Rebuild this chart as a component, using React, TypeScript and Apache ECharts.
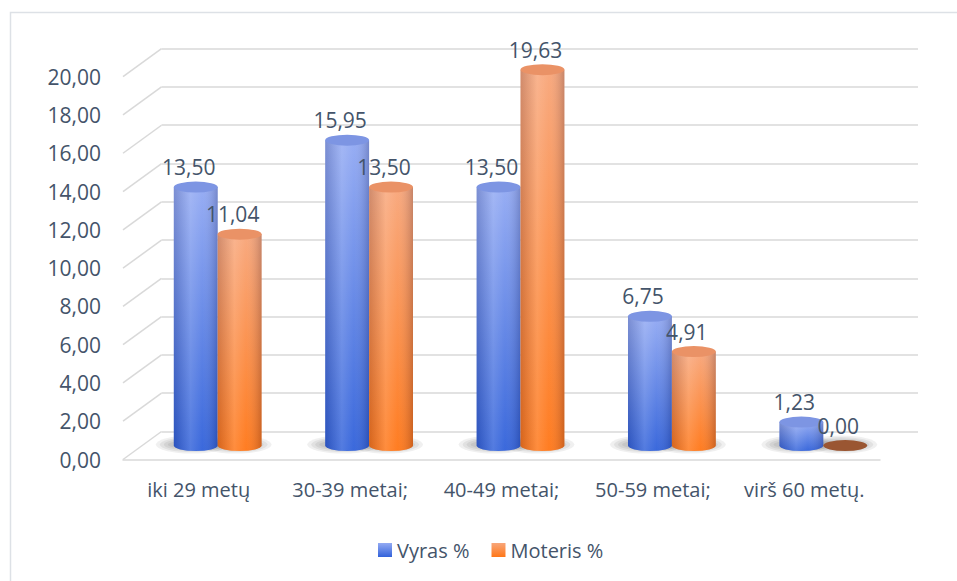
import React, { useEffect, useRef } from "react";
import * as echarts from "echarts";

const categories = ["iki 29 metų", "30-39 metai;", "40-49 metai;", "50-59 metai;", "virš 60 metų."];
const vyras = [13.5, 15.95, 13.5, 6.75, 1.23];
const moteris = [11.04, 13.5, 19.63, 4.91, 0.0];
const yTicks = [0, 2, 4, 6, 8, 10, 12, 14, 16, 18, 20];
const seriesNames = ["Vyras %", "Moteris %"];

const TEXT = "#44546a";
const GRID = "#d9d9d9";
const FONT = "Open Sans";

const palettes = [
  { top: "#93aaf3", bottom: "#3262da", cap: "#7d95e3", zero: "#3c5fb8" },
  { top: "#f8a67a", bottom: "#ff7718", cap: "#ea9266", zero: "#9a5632" },
];

const fmt = (v: number) => v.toFixed(2).replace(".", ",");

const ellipsePath = (cx: number, cy: number, rx: number, ry: number) =>
  `M${cx - rx} ${cy} A${rx} ${ry} 0 1 0 ${cx + rx} ${cy} A${rx} ${ry} 0 1 0 ${cx - rx} ${cy} Z`;

function barGeom(api: any, side: number) {
  const i = api.value(0);
  const v = api.value(1);
  const base = api.coord([i, 0]);
  const top = api.coord([i, v]);
  const band = api.size([1, 0])[0];
  const w = band * 0.29;
  const cx = base[0] + side * band * 0.145;
  return { v, cx, rx: w / 2, ry: 5.5, yb: base[1], yt: top[1] };
}

function cylinder(seriesIdx: number) {
  const side = seriesIdx === 0 ? -1 : 1;
  const pal = palettes[seriesIdx];
  return (params: any, api: any) => {
    const { v, cx, rx, ry, yb, yt } = barGeom(api, side);
    if (v <= 0) {
      return {
        type: "path",
        shape: { pathData: ellipsePath(cx, yb, rx, ry) },
        style: { fill: pal.zero },
      };
    }
    const body = `M${cx - rx} ${yt} L${cx - rx} ${yb} A${rx} ${ry} 0 0 0 ${cx + rx} ${yb} L${cx + rx} ${yt} Z`;
    return {
      type: "group",
      children: [
        {
          type: "path",
          shape: { pathData: body },
          style: {
            fill: new echarts.graphic.LinearGradient(0, 0, 0, 1, [
              { offset: 0, color: pal.top },
              { offset: 1, color: pal.bottom },
            ]),
          },
        },
        {
          type: "path",
          shape: { pathData: body },
          style: {
            fill: new echarts.graphic.LinearGradient(0, 0, 1, 0, [
              { offset: 0, color: "rgba(0,0,40,0.16)" },
              { offset: 0.38, color: "rgba(255,255,255,0.16)" },
              { offset: 0.65, color: "rgba(255,255,255,0.04)" },
              { offset: 1, color: "rgba(0,0,40,0.2)" },
            ]),
          },
        },
        {
          type: "path",
          shape: { pathData: ellipsePath(cx, yt, rx, ry) },
          style: { fill: pal.cap },
        },
      ],
    };
  };
}

function shadow(seriesIdx: number) {
  const side = seriesIdx === 0 ? -1 : 1;
  return (params: any, api: any) => {
    const { cx, rx, yb } = barGeom(api, side);
    const children: any[] = [];
    for (let k = 0; k < 4; k++) {
      children.push({
        type: "path",
        shape: { pathData: ellipsePath(cx - 4, yb - 1, rx + 14 - k * 4, 9 - k * 1.5) },
        style: { fill: "rgba(0,0,0,0.06)" },
      });
    }
    return { type: "group", children };
  };
}

function labelItem(params: any, api: any) {
  const side = api.value(2);
  const { v, cx, yt } = barGeom(api, side);
  return {
    type: "text",
    x: cx - 7,
    y: yt - 20,
    style: {
      text: fmt(v),
      fill: TEXT,
      fontSize: 21,
      fontFamily: FONT,
      align: "center",
      verticalAlign: "middle",
    },
  };
}

export default function App() {
  const ref = useRef<HTMLDivElement>(null);
  useEffect(() => {
    if (!ref.current) return;
    const chart = echarts.init(ref.current, null, { renderer: "svg" });
    const vData = vyras.map((v, i) => [i, v]);
    const mData = moteris.map((v, i) => [i, v]);
    const labelData = [
      ...vyras.map((v, i) => [i, v, -1]),
      ...moteris.map((v, i) => [i, v, 1]),
    ];
    const option: any = {
      animation: false,
      backgroundColor: "#ffffff",
      graphic: [
        {
          type: "rect",
          shape: { x: 10.5, y: 12.5, width: 980, height: 620 },
          style: { fill: "none", stroke: "#dde1e6", lineWidth: 1.5 },
          silent: true,
        },
      ],
      legend: {
        data: seriesNames,
        left: 373,
        top: 535,
        icon: "rect",
        itemWidth: 14,
        itemHeight: 14,
        itemGap: 22,
        textStyle: { fontSize: 20, color: TEXT, fontFamily: FONT },
      },
      grid: [
        { left: 161.5, top: 48.5, width: 756.5, height: 383 },
        { left: 123, top: 76.7, width: 757, height: 382.8 },
        { left: 142, top: 62.6, width: 757, height: 383 },
      ],
      xAxis: [
        { gridIndex: 0, type: "category", data: categories, show: false },
        {
          gridIndex: 1,
          type: "category",
          data: categories,
          axisLine: { lineStyle: { color: GRID, width: 1.5 } },
          axisTick: { show: false },
          axisLabel: { interval: 0, fontSize: 20, color: TEXT, fontFamily: FONT, margin: 20 },
        },
        { gridIndex: 2, type: "category", data: categories, show: false },
      ],
      yAxis: [
        {
          gridIndex: 0,
          type: "value",
          min: 0,
          max: 20,
          interval: 2,
          axisLabel: { show: false },
          axisLine: { show: false },
          axisTick: { show: false },
          splitLine: { lineStyle: { color: GRID, width: 1.5 } },
        },
        {
          gridIndex: 1,
          type: "value",
          min: 0,
          max: 20,
          interval: 2,
          axisLine: { show: false },
          axisTick: { show: false },
          splitLine: { show: false },
          axisLabel: {
            formatter: (v: number) => fmt(v),
            fontSize: 21,
            color: TEXT,
            fontFamily: FONT,
            margin: 22,
          },
        },
        { gridIndex: 2, type: "value", min: 0, max: 20, interval: 2, show: false },
      ],
      series: [
        {
          type: "custom",
          name: "diagonals",
          xAxisIndex: 1,
          yAxisIndex: 1,
          z: 1,
          silent: true,
          data: yTicks.map((t) => [0, t]),
          encode: { x: 0, y: 1 },
          renderItem: (params: any, api: any) => {
            const y = api.coord([0, api.value(1)])[1];
            const x0 = params.coordSys.x;
            return {
              type: "line",
              shape: { x1: x0, y1: y, x2: x0 + 38.5, y2: y - 28 },
              style: { stroke: GRID, lineWidth: 1.5 },
            };
          },
        },
        ...[vData, mData].map((d, si) => ({
          type: "custom",
          name: "shadow" + si,
          xAxisIndex: 2,
          yAxisIndex: 2,
          z: 1,
          silent: true,
          data: d,
          encode: { x: 0, y: 1 },
          renderItem: shadow(si),
        })),
        ...[vData, mData].map((d, si) => ({
          type: "custom",
          name: seriesNames[si],
          xAxisIndex: 2,
          yAxisIndex: 2,
          z: 2 + si,
          data: d,
          encode: { x: 0, y: 1 },
          itemStyle: {
            color: new echarts.graphic.LinearGradient(0, 0, 0, 1, [
              { offset: 0, color: palettes[si].top },
              { offset: 1, color: palettes[si].bottom },
            ]),
          },
          renderItem: cylinder(si),
        })),
        {
          type: "custom",
          name: "labels",
          xAxisIndex: 2,
          yAxisIndex: 2,
          z: 6,
          silent: true,
          data: labelData,
          encode: { x: 0, y: 1 },
          renderItem: labelItem,
        },
      ],
    };
    chart.setOption(option);
    return () => chart.dispose();
  }, []);
  return (
    <div
      ref={ref}
      style={{ position: "fixed", left: 0, top: 0, width: 957, height: 581 }}
    />
  );
}
